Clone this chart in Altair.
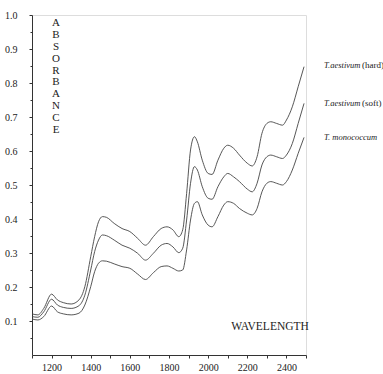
import altair as alt
import pandas as pd

wavelength = [1100, 1130, 1160, 1200, 1230, 1260, 1300, 1340, 1370, 1400, 1420, 1440, 1460, 1480,
              1520, 1560, 1600, 1640, 1680, 1720, 1760, 1790, 1820, 1850, 1870, 1890, 1910, 1930,
              1945, 1970, 2000, 2020, 2050, 2080, 2100, 2130, 2160, 2200, 2225, 2250, 2275, 2300,
              2320, 2350, 2380, 2400, 2430, 2460, 2490]

hard = [0.121, 0.118, 0.137, 0.179, 0.162, 0.154, 0.150, 0.162, 0.201, 0.289, 0.348, 0.392, 0.407, 0.405,
        0.387, 0.372, 0.363, 0.343, 0.323, 0.348, 0.372, 0.377, 0.368, 0.348, 0.368, 0.475, 0.603, 0.642,
        0.627, 0.573, 0.534, 0.531, 0.573, 0.608, 0.617, 0.608, 0.588, 0.564, 0.556, 0.583, 0.652, 0.681,
        0.686, 0.681, 0.676, 0.691, 0.730, 0.789, 0.848]

soft = [0.113, 0.111, 0.127, 0.164, 0.147, 0.140, 0.137, 0.145, 0.176, 0.250, 0.304, 0.338, 0.353, 0.351,
        0.338, 0.323, 0.314, 0.299, 0.279, 0.299, 0.323, 0.328, 0.318, 0.301, 0.314, 0.397, 0.505, 0.554,
        0.544, 0.495, 0.461, 0.458, 0.495, 0.524, 0.534, 0.524, 0.510, 0.488, 0.480, 0.505, 0.559, 0.583,
        0.588, 0.583, 0.578, 0.588, 0.622, 0.681, 0.740]

mono = [0.106, 0.103, 0.113, 0.144, 0.127, 0.121, 0.118, 0.123, 0.147, 0.201, 0.245, 0.270, 0.277, 0.276,
        0.268, 0.260, 0.255, 0.238, 0.222, 0.242, 0.260, 0.262, 0.255, 0.247, 0.250, 0.309, 0.397, 0.446,
        0.451, 0.412, 0.382, 0.377, 0.407, 0.441, 0.451, 0.446, 0.431, 0.417, 0.412, 0.431, 0.480, 0.505,
        0.510, 0.505, 0.500, 0.510, 0.544, 0.593, 0.640]

series_names = ["hard", "soft", "mono"]
x_ticks = list(range(1100, 2501, 100))
y_ticks = [round(0.05 * i, 2) for i in range(1, 21)]

rows = []
for name, vals in zip(series_names, [hard, soft, mono]):
    for w, v in zip(wavelength, vals):
        rows.append({"wavelength": w, "absorbance": v, "series": name})
df = pd.DataFrame(rows)

FONT = "Liberation Serif"
MAJOR = "abs(datum.value*10 - round(datum.value*10)) < 0.01"

x_enc = alt.X("wavelength:Q",
              scale=alt.Scale(domain=[1100, 2500], nice=False, zero=False),
              axis=alt.Axis(values=x_ticks, title=None, grid=False,
                            labelExpr="(datum.value % 200 == 0 && datum.value >= 1200 && datum.value <= 2400) ? datum.value : ''",
                            labelFont=FONT, labelFontSize=10, labelColor="#222",
                            labelPadding=4, tickSize=3, tickColor="#333",
                            domainColor="#333", domainWidth=1))
y_enc = alt.Y("absorbance:Q",
              scale=alt.Scale(domain=[0, 1.0], nice=False, zero=False),
              axis=alt.Axis(values=y_ticks, title=None, grid=False,
                            labelExpr=MAJOR + " ? format(datum.value, '.1f') : ''",
                            labelFont=FONT, labelFontSize=10, labelColor="#222",
                            labelPadding=12,
                            tickSize={"condition": {"test": MAJOR, "value": 3}, "value": 2},
                            tickColor="#333", domainColor="#333", domainWidth=1))

lines = alt.Chart(df).mark_line(color="#444444", strokeWidth=0.9, interpolate="monotone").encode(
    x=x_enc, y=y_enc, detail="series:N")

letters = list("ABSORBANCE")
ylab_df = pd.DataFrame({"ch": letters, "i": list(range(len(letters)))})
ylab = alt.Chart(ylab_df).mark_text(font=FONT, fontSize=11, color="#222", align="center", baseline="middle").encode(
    text="ch:N",
    x=alt.value(24),
    y=alt.Y("i:Q", axis=None, scale=alt.Scale(domain=[0, 9], range=[8, 115])))

wl = alt.Chart(pd.DataFrame({"t": ["WAVELENGTH"]})).mark_text(
    font=FONT, fontSize=11.5, color="#222", align="center", baseline="middle").encode(
    text="t:N", x=alt.value(238), y=alt.value(312))

ital = pd.DataFrame({"t": ["T.aestivum", "T.aestivum", "T. monococcum"], "yy": [50, 88, 122]})
rom = pd.DataFrame({"t": ["(hard)", "(soft)"], "yy": [50, 88]})
leg_i = alt.Chart(ital).mark_text(font=FONT, fontSize=8.5, fontStyle="italic", color="#222",
                                   align="left", baseline="middle").encode(
    text="t:N", x=alt.value(292), y=alt.Y("yy:Q", scale=None))
leg_r = alt.Chart(rom).mark_text(font=FONT, fontSize=9, color="#222",
                                  align="left", baseline="middle").encode(
    text="t:N", x=alt.value(330), y=alt.Y("yy:Q", scale=None))

chart = alt.layer(lines, ylab, wl, leg_i, leg_r).resolve_scale(y="independent").properties(
    width=274, height=340,
    autosize=alt.AutoSizeParams(type="none"),
    padding={"left": 32, "top": 15, "right": 77, "bottom": 19},
).configure_view(stroke=None).configure(background="white")

chart.save("out.html", embed_options={"renderer": "svg", "actions": False})
